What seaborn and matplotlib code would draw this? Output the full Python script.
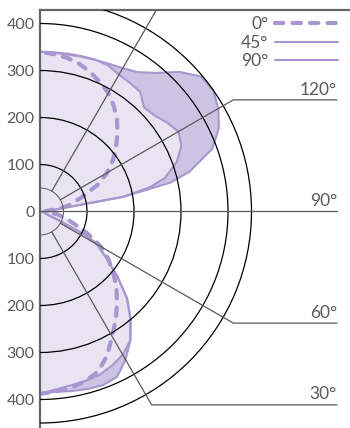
import numpy as np
import pandas as pd
import seaborn as sns
import matplotlib.pyplot as plt
from matplotlib.patches import Arc

# photometric angle (0 = straight down, 180 = straight up) and intensity per C-plane
angles = [0, 5, 10, 15, 20, 25, 30, 35, 40, 45, 50, 55, 60, 62.5, 65, 67.5, 70, 75, 80, 85, 90,
          95, 97.5, 100, 102.5, 105, 110, 115, 120, 125, 130, 135, 140, 145, 150, 155, 160, 165,
          170, 175, 180]
c0 = [388, 385, 380, 374, 362, 338, 307, 281, 255, 230, 204, 178, 150,
      130, 112, 95, 78, 58, 40, 22, 10,
      12, 25, 50, 65, 75,
      100, 137, 165, 189, 211, 233, 255, 274, 291, 303, 315, 325, 332, 336, 340]
c45 = [388, 380, 376, 373, 370, 362, 352, 335, 300, 262, 215, 172, 140,
       110, 40, 18, 12, 8, 6, 5, 5,
       10, 35, 180, 240, 275,
       310, 332, 340, 330, 318, 313, 332, 334, 336, 343, 344, 342, 341, 340, 340]
c90 = [388, 385, 388, 391, 393, 388, 364, 335, 300, 262, 215, 172, 140,
       110, 40, 18, 12, 8, 6, 5, 5,
       10, 35, 180, 285, 330,
       390, 420, 438, 450, 447, 420, 385, 362, 352, 347, 343, 341, 339, 339, 340]
planes = ["0°", "45°", "90°"]

rings = [100, 200, 300, 400, 450]
spokes = [30, 60, 90, 120]
radial_ticks = [400, 300, 200, 100, 0, -100, -200, -300, -400]

frames = []
for name, vals in zip(planes, [c0, c45, c90]):
    t = np.radians(angles)
    r = np.array(vals, dtype=float)
    frames.append(pd.DataFrame({"plane": name, "x": r * np.sin(t), "y": -r * np.cos(t)}))
df = pd.concat(frames, ignore_index=True)

sns.set_theme(style="white")
plt.rcParams["font.family"] = ["Lato", "DejaVu Sans"]

line_col = "#a897cf"
light = "#e8e4f2"
dark = "#cdc4e3"
grey = "#5a5a5a"

fig = plt.figure(figsize=(3.5, 4.28), dpi=100)
ax = fig.add_axes([40 / 350, 0, 310 / 350, 418 / 428])
scale = 0.47  # pixels per candela
ax.set_xlim(0, 310 / scale)
ax.set_ylim(-(428 - 211.5) / scale, (211.5 - 10) / scale)

# widest plane first, the narrower ones painted over it
for name, col in [("90°", dark), ("45°", light), ("0°", light)]:
    d = df[df.plane == name]
    ax.fill(d.x, d.y, color=col, lw=0, zorder=1)

sns.lineplot(data=df, x="x", y="y", hue="plane", style="plane", size="plane",
             palette={p: line_col for p in planes},
             dashes={"0°": (2, 2.2), "45°": "", "90°": ""},
             sizes={"0°": 3, "45°": 1.5, "90°": 1.5},
             sort=False, estimator=None, legend=False, ax=ax, zorder=2)
curve_lines = list(ax.lines)
for ln in curve_lines:
    ln.set_dash_capstyle("round")
    ln.set_solid_capstyle("round")
    ln.set_solid_joinstyle("round")

# polar grid
for r in rings:
    ax.add_patch(Arc((0, 0), 2 * r, 2 * r, theta1=-90, theta2=90, color="black", lw=0.9, zorder=3))
ax.add_patch(Arc((0, 0), 100, 100, theta1=-90, theta2=90, color=grey, lw=0.7, zorder=3))

leader_x = 632
for a in spokes:
    t = np.radians(a)
    r0 = 0 if a == 90 else 50
    x1, y1 = 475 * np.sin(t), -475 * np.cos(t)
    ax.plot([r0 * np.sin(t), x1, leader_x], [-r0 * np.cos(t), y1, y1], color=grey, lw=0.9, zorder=3)
    ax.text(leader_x, y1 + 5, f"{a}°", ha="right", va="bottom", fontsize=12.5, color=grey)
t = np.radians(150)
ax.plot([50 * np.sin(t), 560 * np.sin(t)], [-50 * np.cos(t), -560 * np.cos(t)], color=grey, lw=0.9, zorder=3)

ax.set_xticks([])
ax.set_yticks(radial_ticks)
ax.set_yticklabels([str(abs(v)) for v in radial_ticks])
ax.tick_params(axis="y", length=0, pad=4, labelsize=11.5, labelcolor=grey)
ax.set_xlabel("")
ax.set_ylabel("")
for side in ["right", "bottom"]:
    ax.spines[side].set_visible(False)
for side in ["left", "top"]:
    ax.spines[side].set_color("#666666")
    ax.spines[side].set_linewidth(1.6)

ax.legend(curve_lines, planes, loc="upper right", bbox_to_anchor=(0.961, 0.985),
          frameon=False, markerfirst=False, handlelength=3.6, handletextpad=0.4,
          labelspacing=0.15, borderpad=0, borderaxespad=0, fontsize=12.5, labelcolor=grey)

fig.savefig("out.png", dpi=100)
